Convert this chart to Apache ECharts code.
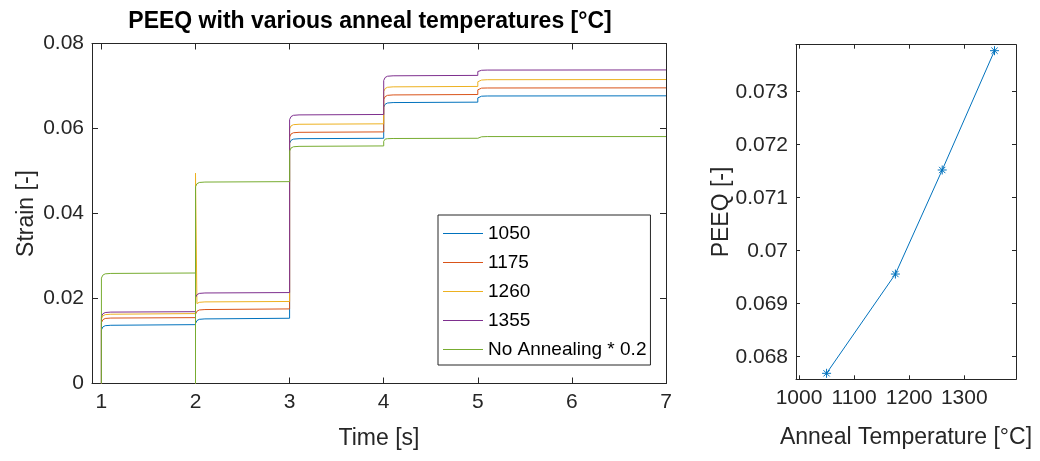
<!DOCTYPE html>
<html>
<head>
<meta charset="utf-8">
<script src="https://cdn.jsdelivr.net/npm/echarts@6/dist/echarts.min.js"></script>
<style>html,body{margin:0;padding:0;background:#fff}#c{width:1040px;height:461px}</style>
</head>
<body>
<div id="c"></div>
<script>
// ---- data ----
const timeS = [1, 1, 1.015, 1.04, 1.1,
  2, 2, 2, 2.015, 2.04, 2.1,
  3, 3, 3.015, 3.04, 3.1,
  4, 4, 4.015, 4.04, 4.1,
  5, 5, 5.015, 5.04, 5.1,
  7];
const seriesNames = ['1050', '1175', '1260', '1355', 'No Annealing * 0.2'];
const strain1050 = [0, 0.0126, 0.0133, 0.0136, 0.0137,
  0.01385, 0, 0.0141, 0.0148, 0.0151, 0.0152,
  0.01535, 0.0565, 0.0572, 0.0575, 0.0576,
  0.0577, 0.0650, 0.0657, 0.0660, 0.0661,
  0.0662, 0.0672, 0.0675, 0.0676, 0.06765,
  0.06769];
const strain1175 = [0, 0.0143, 0.0150, 0.0153, 0.0154,
  0.0155, 0, 0.0163, 0.0170, 0.0173, 0.0174,
  0.01755, 0.0580, 0.0587, 0.0590, 0.0591,
  0.0592, 0.0668, 0.0675, 0.0678, 0.0679,
  0.0680, 0.0691, 0.0694, 0.0695, 0.06953,
  0.06956];
const strain1260 = [0, 0.0152, 0.0159, 0.0162, 0.0163,
  0.01645, 0, 0.0495, 0.0188, 0.0191, 0.0192,
  0.0193, 0.0599, 0.0606, 0.0609, 0.0610,
  0.0611, 0.0687, 0.0694, 0.0697, 0.0698,
  0.0699, 0.0710, 0.0713, 0.0714, 0.07148,
  0.07152];
const strain1355 = [0, 0.0157, 0.0164, 0.0167, 0.0168,
  0.0169, 0, 0.0202, 0.0209, 0.0212, 0.0213,
  0.0214, 0.0621, 0.0628, 0.0631, 0.0632,
  0.0633, 0.0713, 0.0720, 0.0723, 0.0724,
  0.0725, 0.0734, 0.0736, 0.0737, 0.07375,
  0.07378];
const strainNoAnneal = [0, 0.0248, 0.0255, 0.0258, 0.0259,
  0.0260, 0, 0.0463, 0.0470, 0.0473, 0.0474,
  0.0475, 0.0547, 0.0554, 0.0557, 0.0558,
  0.0559, 0.0570, 0.0575, 0.0576, 0.05765,
  0.0577, 0.0579, 0.0580, 0.05805, 0.0581,
  0.0581];
const timeTicks = [1, 2, 3, 4, 5, 6, 7];
const strainTicks = [0, 0.02, 0.04, 0.06, 0.08];

const annealTemps = [1050, 1175, 1260, 1355];
const finalPeeq = [0.067687, 0.069560, 0.071523, 0.073774];
const tempTicks = [1000, 1100, 1200, 1300];
const peeqTicks = [0.068, 0.069, 0.070, 0.071, 0.072, 0.073];

// ---- chart ----
const colors = ['#0072BD', '#D95319', '#EDB120', '#7E2F8E', '#77AC30'];
const FONT = '"Liberation Sans", Arial, Helvetica, sans-serif';
const AX = '#262626';
const allStrain = [strain1050, strain1175, strain1260, strain1355, strainNoAnneal];
const fmt = v => String(parseFloat(Number(v).toFixed(6)));

function boxAxis(pos, gridIndex, min, max, ticks, len, main, extra) {
  return Object.assign({
    type: 'value', position: pos, gridIndex, min, max,
    nameMoveOverlap: false,
    axisLine: { show: true, onZero: false, lineStyle: { color: AX, width: 1 } },
    axisTick: { show: true, inside: true, length: len, customValues: ticks, lineStyle: { color: AX } },
    axisLabel: main ? { show: true, customValues: ticks, color: AX, fontSize: 21, fontFamily: FONT, formatter: fmt } : { show: false },
    splitLine: { show: false }
  }, extra || {});
}

const chart = echarts.init(document.getElementById('c'), null, { renderer: 'canvas' });
const option = {
  animation: false,
  color: colors,
  grid: [
    { left: 92, top: 43.5, width: 574, height: 340, containLabel: false, outerBoundsMode: 'none' },
    { left: 796, top: 44.7, width: 220, height: 334.6, containLabel: false, outerBoundsMode: 'none' }
  ],
  xAxis: [
    boxAxis('bottom', 0, 0.9, 7, timeTicks, 6, true, {
      name: 'Time [s]', nameLocation: 'middle', nameGap: 44,
      nameTextStyle: { fontSize: 23, color: AX, fontFamily: FONT }
    }),
    boxAxis('top', 0, 0.9, 7, timeTicks, 6, false),
    boxAxis('bottom', 1, 994.5, 1394, tempTicks, 4, true, {
      name: 'Anneal Temperature [°C]', nameLocation: 'middle', nameGap: 47,
      nameTextStyle: { fontSize: 23, color: AX, fontFamily: FONT }
    }),
    boxAxis('top', 1, 994.5, 1394, tempTicks, 4, false)
  ],
  yAxis: [
    boxAxis('left', 0, 0, 0.08, strainTicks, 6, true, {
      name: 'Strain [-]', nameLocation: 'middle', nameGap: 54,
      nameTextStyle: { fontSize: 23, color: AX, fontFamily: FONT }
    }),
    boxAxis('right', 0, 0, 0.08, strainTicks, 6, false),
    boxAxis('left', 1, 0.067574, 0.073887, peeqTicks, 4, true, {
      name: 'PEEQ [-]', nameLocation: 'middle', nameGap: 63,
      nameTextStyle: { fontSize: 23, color: AX, fontFamily: FONT }
    }),
    boxAxis('right', 1, 0.067574, 0.073887, peeqTicks, 4, false)
  ],
  legend: {
    show: true,
    data: seriesNames,
    orient: 'vertical',
    left: 438, top: 215,
    icon: 'rect',
    itemWidth: 40, itemHeight: 1, itemGap: 10,
    padding: [9, 4, 6, 5],
    itemStyle: { borderWidth: 0 },
    backgroundColor: '#fff',
    borderColor: '#262626', borderWidth: 1, borderRadius: 0,
    textStyle: { fontSize: 19, color: '#000', fontFamily: FONT, lineHeight: 19 }
  },
  graphic: [{
    type: 'text', x: 370, y: 22,
    style: { text: 'PEEQ with various anneal temperatures [°C]', font: 'bold 23px ' + FONT,
      fill: '#000', textAlign: 'center', textVerticalAlign: 'middle' }
  }],
  series: seriesNames.map((n, i) => ({
    name: n, type: 'line', xAxisIndex: 0, yAxisIndex: 0,
    data: timeS.map((t, k) => [t, allStrain[i][k]]),
    showSymbol: false, symbol: 'none',
    lineStyle: { width: 1, color: colors[i] },
    itemStyle: { color: colors[i] }
  })).concat([{
    name: 'PEEQ', type: 'line', xAxisIndex: 2, yAxisIndex: 2,
    data: annealTemps.map((t, k) => [t, finalPeeq[k]]),
    symbol: 'path://M5,0L5,10M0,5L10,5M1.5,1.5L8.5,8.5M1.5,8.5L8.5,1.5',
    symbolSize: 9,
    lineStyle: { width: 1, color: colors[0] },
    itemStyle: { color: 'none', borderColor: colors[0], borderWidth: 1 }
  }])
};
chart.setOption(option);
</script>
</body>
</html>
